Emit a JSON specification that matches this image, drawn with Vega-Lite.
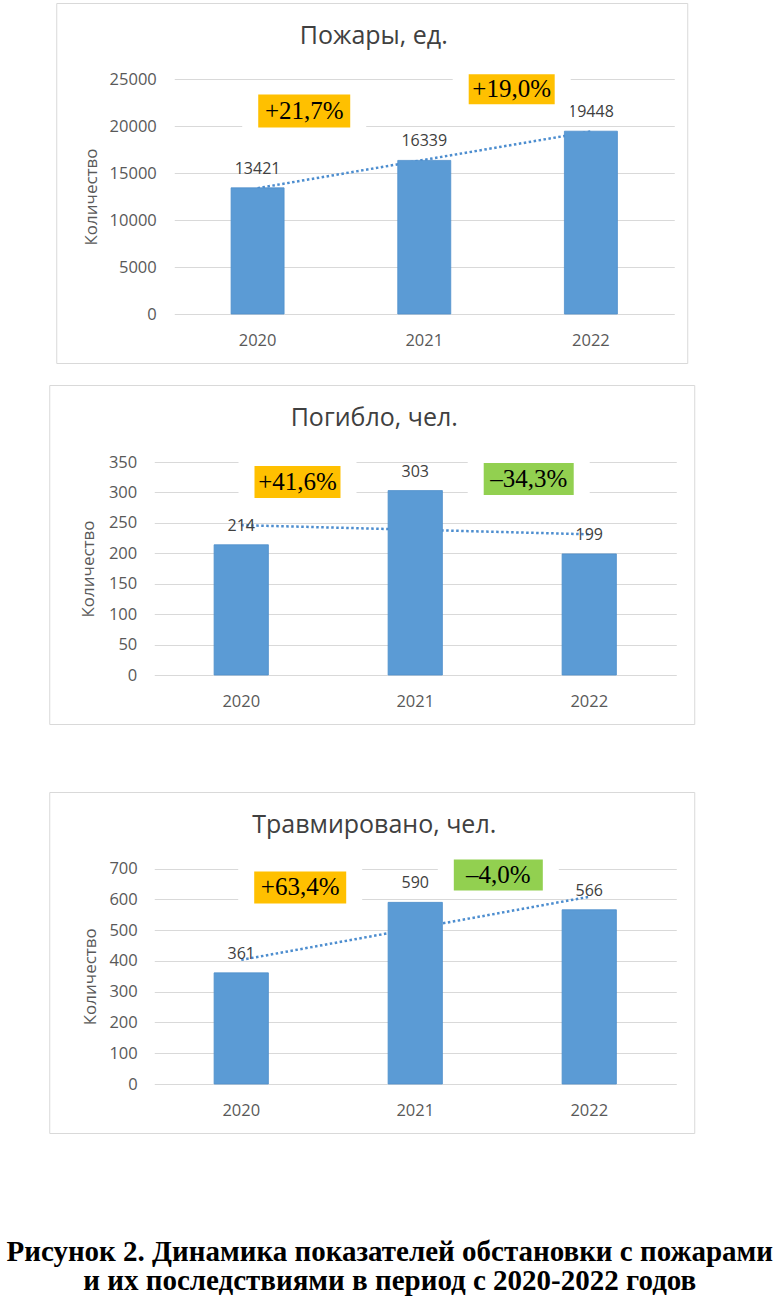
{
  "$schema": "https://vega.github.io/schema/vega-lite/v6.json",
  "padding": {"left": 6, "top": 2, "right": 0, "bottom": 0},
  "background": "white",
  "config": {
    "font": "Open Sans",
    "view": {"stroke": "#d9d9d9", "strokeWidth": 1},
    "axis": {"domain": false, "ticks": false, "tickSize": 0, "labelFont": "Open Sans", "labelFontSize": 16.5, "labelColor": "#595959", "gridColor": "#d9d9d9", "gridWidth": 1, "titleFont": "Open Sans", "titleFontSize": 17, "titleColor": "#595959", "titleFontWeight": "normal"},
    "title": {"font": "Open Sans", "fontSize": 25, "fontWeight": "normal", "color": "#404040"}
  },
  "title": {
    "text": ["Рисунок 2. Динамика показателей обстановки с пожарами", "и их последствиями в период с 2020-2022 годов"],
    "orient": "bottom", "anchor": "middle", "font": "Liberation Serif", "fontWeight": "bold", "fontSize": 29, "lineHeight": 29, "color": "#000000", "offset": 104, "dx": 18, "baseline": "top"
  },
  "center": true,
  "spacing": 20,
  "vconcat": [
    {
      "width": 631, "height": 360,
      "title": {"text": "Пожары, ед.", "offset": -65.5, "dx": 2, "baseline": "alphabetic"},
      "data": {"values": [
        {"year": "2020", "value": 13421, "trend": 13389},
        {"year": "2021", "value": 16339, "trend": 16403},
        {"year": "2022", "value": 19448, "trend": 19416}
      ]},
      "resolve": {"axis": {"x": "independent", "y": "independent"}},
      "layer": [
        {"mark": {"type": "line", "color": "#4C8DCF", "strokeWidth": 2.5, "strokeDash": [2.5, 2.5]},
         "encoding": {
           "x": {"field": "year", "type": "nominal", "scale": {"range": [118, 618], "paddingInner": 0.682, "paddingOuter": 0.341}, "axis": null},
           "y": {"field": "trend", "type": "quantitative", "scale": {"domain": [0, 25000], "range": [311, 76], "nice": false}, "axis": null}}},
        {"mark": {"type": "bar", "color": "#5B9BD5", "stroke": "#4F8FCC", "strokeWidth": 0.8},
         "encoding": {
           "x": {"field": "year", "type": "nominal", "scale": {"range": [118, 618], "paddingInner": 0.682, "paddingOuter": 0.341},
                 "axis": {"title": null, "offset": -49, "labelPadding": 31, "labelBaseline": "alphabetic", "labelAngle": 0, "grid": false}},
           "y": {"field": "value", "type": "quantitative", "scale": {"domain": [0, 25000], "range": [311, 76], "nice": false},
                 "axis": {"title": "Количество", "format": "d", "offset": -100, "labelPadding": 0, "values": [0, 5000, 10000, 15000, 20000, 25000], "titleX": -65, "titleBaseline": "middle", "titleAlign": "center", "grid": true}}}},
        {"mark": {"type": "text", "font": "Open Sans", "fontSize": 16, "color": "#404040", "baseline": "alphabetic", "dy": -14},
         "encoding": {
           "x": {"field": "year", "type": "nominal", "scale": {"range": [118, 618], "paddingInner": 0.682, "paddingOuter": 0.341}, "axis": null},
           "y": {"field": "value", "type": "quantitative", "scale": {"domain": [0, 25000], "range": [311, 76], "nice": false}, "axis": null},
           "text": {"field": "value", "type": "quantitative", "format": "d"}}},
        {"data": {"values": [{"label": "+21,7%"}]},
         "encoding": {"x": {"datum": "2020", "type": "nominal", "bandPosition": 1.38, "axis": null}, "y": {"datum": 21596, "type": "quantitative", "axis": null}},
         "layer": [
           {"mark": {"type": "point", "shape": "M-62,-24.5H62V24.5H-62Z", "size": 4, "filled": true, "fill": "#ffffff", "opacity": 1, "strokeWidth": 0}},
           {"mark": {"type": "point", "shape": "M-46,-16.5H46V16.5H-46Z", "size": 4, "filled": true, "fill": "#FFC000", "opacity": 1, "strokeWidth": 0}},
           {"mark": {"type": "text", "font": "Liberation Serif", "fontSize": 25, "color": "#000000", "baseline": "middle", "align": "center"}, "encoding": {"text": {"field": "label"}}}
         ]},
        {"data": {"values": [{"label": "+19,0%"}]},
         "encoding": {"x": {"datum": "2021", "type": "nominal", "bandPosition": 2.15, "axis": null}, "y": {"datum": 23904, "type": "quantitative", "axis": null}},
         "layer": [
           {"mark": {"type": "point", "shape": "M-59,-23H59V23H-59Z", "size": 4, "filled": true, "fill": "#ffffff", "opacity": 1, "strokeWidth": 0}},
           {"mark": {"type": "point", "shape": "M-43,-15H43V15H-43Z", "size": 4, "filled": true, "fill": "#FFC000", "opacity": 1, "strokeWidth": 0}},
           {"mark": {"type": "text", "font": "Liberation Serif", "fontSize": 25, "color": "#000000", "baseline": "middle", "align": "center"}, "encoding": {"text": {"field": "label"}}}
         ]}
      ]
    },
    {
      "spacing": 66,
      "vconcat": [
        {
          "width": 645, "height": 339,
          "title": {"text": "Погибло, чел.", "offset": -65.5, "dx": 2.5, "baseline": "alphabetic"},
          "data": {"values": [
            {"year": "2020", "value": 214, "trend": 246.2},
            {"year": "2021", "value": 303, "trend": 238.7},
            {"year": "2022", "value": 199, "trend": 231.2}
          ]},
          "resolve": {"axis": {"x": "independent", "y": "independent"}},
          "layer": [
            {"mark": {"type": "line", "color": "#4C8DCF", "strokeWidth": 2.5, "strokeDash": [2.5, 2.5]},
             "encoding": {
               "x": {"field": "year", "type": "nominal", "scale": {"range": [105, 627], "paddingInner": 0.688, "paddingOuter": 0.344}, "axis": null},
               "y": {"field": "trend", "type": "quantitative", "scale": {"domain": [0, 350], "range": [290, 77], "nice": false}, "axis": null}}},
            {"mark": {"type": "bar", "color": "#5B9BD5", "stroke": "#4F8FCC", "strokeWidth": 0.8},
             "encoding": {
               "x": {"field": "year", "type": "nominal", "scale": {"range": [105, 627], "paddingInner": 0.688, "paddingOuter": 0.344},
                     "axis": {"title": null, "offset": -49, "labelPadding": 31, "labelBaseline": "alphabetic", "labelAngle": 0, "grid": false}},
               "y": {"field": "value", "type": "quantitative", "scale": {"domain": [0, 350], "range": [290, 77], "nice": false},
                     "axis": {"title": "Количество", "format": "d", "offset": -87.5, "labelPadding": 0, "values": [0, 50, 100, 150, 200, 250, 300, 350], "titleX": -48, "titleBaseline": "middle", "titleAlign": "center", "grid": true}}}},
            {"mark": {"type": "text", "font": "Open Sans", "fontSize": 16, "color": "#404040", "baseline": "alphabetic", "dy": -14},
             "encoding": {
               "x": {"field": "year", "type": "nominal", "scale": {"range": [105, 627], "paddingInner": 0.688, "paddingOuter": 0.344}, "axis": null},
               "y": {"field": "value", "type": "quantitative", "scale": {"domain": [0, 350], "range": [290, 77], "nice": false}, "axis": null},
               "text": {"field": "value", "type": "quantitative", "format": "d"}}},
            {"data": {"values": [{"label": "+41,6%"}]},
             "encoding": {"x": {"datum": "2020", "type": "nominal", "bandPosition": 1.536, "axis": null}, "y": {"datum": 317.1, "type": "quantitative", "axis": null}},
             "layer": [
               {"mark": {"type": "point", "shape": "M-59,-24H59V24H-59Z", "size": 4, "filled": true, "fill": "#ffffff", "opacity": 1, "strokeWidth": 0}},
               {"mark": {"type": "point", "shape": "M-43,-16H43V16H-43Z", "size": 4, "filled": true, "fill": "#FFC000", "opacity": 1, "strokeWidth": 0}},
               {"mark": {"type": "text", "font": "Liberation Serif", "fontSize": 25, "color": "#000000", "baseline": "middle", "align": "center"}, "encoding": {"text": {"field": "label"}}}
             ]},
            {"data": {"values": [{"label": "–34,3%"}]},
             "encoding": {"x": {"datum": "2021", "type": "nominal", "bandPosition": 2.59, "axis": null}, "y": {"datum": 322.1, "type": "quantitative", "axis": null}},
             "layer": [
               {"mark": {"type": "point", "shape": "M-61,-24H61V24H-61Z", "size": 4, "filled": true, "fill": "#ffffff", "opacity": 1, "strokeWidth": 0}},
               {"mark": {"type": "point", "shape": "M-45,-16H45V16H-45Z", "size": 4, "filled": true, "fill": "#92D050", "opacity": 1, "strokeWidth": 0}},
               {"mark": {"type": "text", "font": "Liberation Serif", "fontSize": 25, "color": "#000000", "baseline": "middle", "align": "center"}, "encoding": {"text": {"field": "label"}}}
             ]}
          ]
        },
        {
          "width": 645, "height": 341,
          "title": {"text": "Травмировано, чел.", "offset": -65.5, "dx": 2.5, "baseline": "alphabetic"},
          "data": {"values": [
            {"year": "2020", "value": 361, "trend": 403.2},
            {"year": "2021", "value": 590, "trend": 505.7},
            {"year": "2022", "value": 566, "trend": 608.2}
          ]},
          "resolve": {"axis": {"x": "independent", "y": "independent"}},
          "layer": [
            {"mark": {"type": "line", "color": "#4C8DCF", "strokeWidth": 2.5, "strokeDash": [2.5, 2.5]},
             "encoding": {
               "x": {"field": "year", "type": "nominal", "scale": {"range": [105, 627], "paddingInner": 0.688, "paddingOuter": 0.344}, "axis": null},
               "y": {"field": "trend", "type": "quantitative", "scale": {"domain": [0, 700], "range": [292, 76.5], "nice": false}, "axis": null}}},
            {"mark": {"type": "bar", "color": "#5B9BD5", "stroke": "#4F8FCC", "strokeWidth": 0.8},
             "encoding": {
               "x": {"field": "year", "type": "nominal", "scale": {"range": [105, 627], "paddingInner": 0.688, "paddingOuter": 0.344},
                     "axis": {"title": null, "offset": -49, "labelPadding": 31, "labelBaseline": "alphabetic", "labelAngle": 0, "grid": false}},
               "y": {"field": "value", "type": "quantitative", "scale": {"domain": [0, 700], "range": [292, 76.5], "nice": false},
                     "axis": {"title": "Количество", "format": "d", "offset": -88, "labelPadding": 0, "values": [0, 100, 200, 300, 400, 500, 600, 700], "titleX": -46.5, "titleBaseline": "middle", "titleAlign": "center", "grid": true}}}},
            {"mark": {"type": "text", "font": "Open Sans", "fontSize": 16, "color": "#404040", "baseline": "alphabetic", "dy": -14},
             "encoding": {
               "x": {"field": "year", "type": "nominal", "scale": {"range": [105, 627], "paddingInner": 0.688, "paddingOuter": 0.344}, "axis": null},
               "y": {"field": "value", "type": "quantitative", "scale": {"domain": [0, 700], "range": [292, 76.5], "nice": false}, "axis": null},
               "text": {"field": "value", "type": "quantitative", "format": "d"}}},
            {"data": {"values": [{"label": "+63,4%"}]},
             "encoding": {"x": {"datum": "2020", "type": "nominal", "bandPosition": 1.586, "axis": null}, "y": {"datum": 638.3, "type": "quantitative", "axis": null}},
             "layer": [
               {"mark": {"type": "point", "shape": "M-62,-24H62V24H-62Z", "size": 4, "filled": true, "fill": "#ffffff", "opacity": 1, "strokeWidth": 0}},
               {"mark": {"type": "point", "shape": "M-46,-16H46V16H-46Z", "size": 4, "filled": true, "fill": "#FFC000", "opacity": 1, "strokeWidth": 0}},
               {"mark": {"type": "text", "font": "Liberation Serif", "fontSize": 25, "color": "#000000", "baseline": "middle", "align": "center"}, "encoding": {"text": {"field": "label"}}}
             ]},
            {"data": {"values": [{"label": "–4,0%"}]},
             "encoding": {"x": {"datum": "2021", "type": "nominal", "bandPosition": 2.03, "axis": null}, "y": {"datum": 678.9, "type": "quantitative", "axis": null}},
             "layer": [
               {"mark": {"type": "point", "shape": "M-60.5,-23.5H60.5V23.5H-60.5Z", "size": 4, "filled": true, "fill": "#ffffff", "opacity": 1, "strokeWidth": 0}},
               {"mark": {"type": "point", "shape": "M-44.5,-15.5H44.5V15.5H-44.5Z", "size": 4, "filled": true, "fill": "#92D050", "opacity": 1, "strokeWidth": 0}},
               {"mark": {"type": "text", "font": "Liberation Serif", "fontSize": 25, "color": "#000000", "baseline": "middle", "align": "center"}, "encoding": {"text": {"field": "label"}}}
             ]}
          ]
        }
      ]
    }
  ]
}
